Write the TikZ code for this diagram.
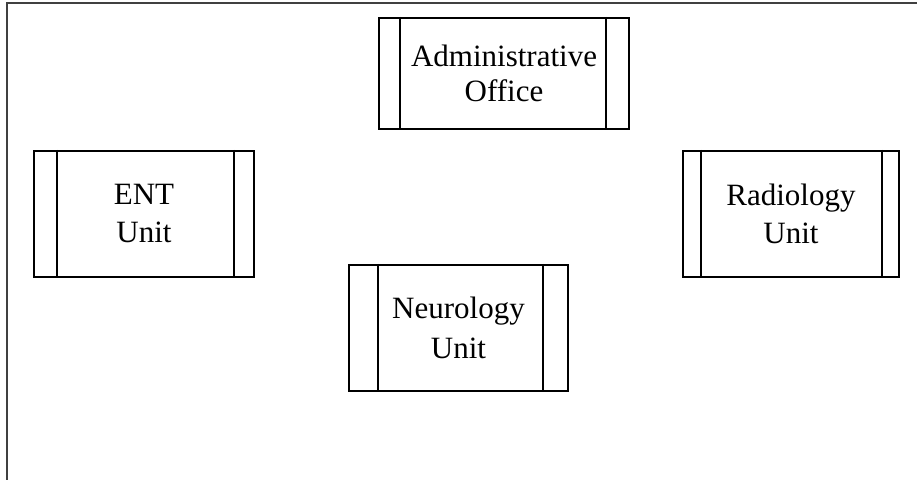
\documentclass[tikz,border=0pt]{standalone}
\usepackage{fontspec}
\setmainfont{Liberation Serif}
\tikzstyle{unit box}=[
    draw = black,
    line width = 1pt,
    fill = white,
    align = center,
    inner sep = 0pt,
    font = \fontsize{15.5}{19}\selectfont
]

\begin{document}
\begin{tikzpicture}[x=0.5pt, y=-0.5pt]
        \useasboundingbox (0,0) rectangle (917,480);
        \clip (0,0) rectangle (917,480);
        \draw[line width=1.2pt, black!75] (7,490) -- (7,3) -- (930,3);

        \node[unit box, minimum width=125pt, minimum height=55.5pt] (adm) at (504,73.5) {Administrative\\[-1.5pt]Office};
        \node[unit box, minimum width=110pt, minimum height=63pt] (ent) at (144,214) {ENT\\Unit};
        \node[unit box, minimum width=108pt, minimum height=63pt] (rad) at (791,214) {Radiology\\Unit};
        \node[unit box, minimum width=109.5pt, minimum height=63pt] (neu) at (458.5,328) {Neurology\\[1pt]Unit};

        \draw[line width=1pt] ([xshift=11pt]adm.north west) -- ([xshift=11pt]adm.south west);
        \draw[line width=1pt] ([xshift=-12pt]adm.north east) -- ([xshift=-12pt]adm.south east);
        \draw[line width=1pt] ([xshift=12pt]ent.north west) -- ([xshift=12pt]ent.south west);
        \draw[line width=1pt] ([xshift=-10.5pt]ent.north east) -- ([xshift=-10.5pt]ent.south east);
        \draw[line width=1pt] ([xshift=9.5pt]rad.north west) -- ([xshift=9.5pt]rad.south west);
        \draw[line width=1pt] ([xshift=-9pt]rad.north east) -- ([xshift=-9pt]rad.south east);
        \draw[line width=1pt] ([xshift=15pt]neu.north west) -- ([xshift=15pt]neu.south west);
        \draw[line width=1pt] ([xshift=-13pt]neu.north east) -- ([xshift=-13pt]neu.south east);

    \end{tikzpicture}
\end{document}
